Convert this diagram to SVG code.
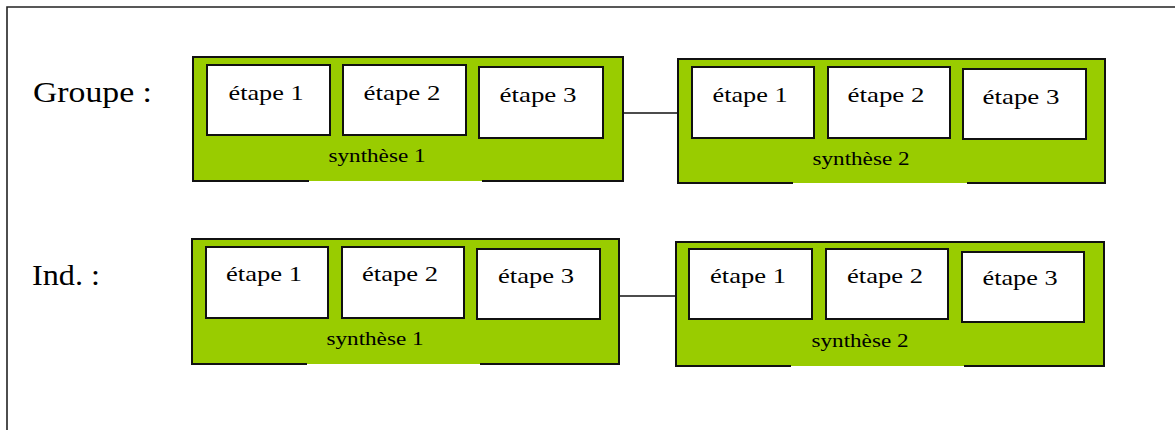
<svg xmlns="http://www.w3.org/2000/svg" width="1175" height="430" viewBox="0 0 1175 430">
  <style>
    .frame { fill: none; stroke: #222; stroke-width: 1.6; }
    .panel { fill: #99cc00; }
    .panel-edge { fill: none; stroke: #111; stroke-width: 2; }
    .step { fill: #ffffff; stroke: #111; stroke-width: 2; }
    .link { fill: none; stroke: #111; stroke-width: 1.6; }
    .row-label { font-size: 30px; }
    .step-label { font-size: 22px; text-anchor: middle; }
    .syn-label { font-size: 18px; text-anchor: middle; }
  </style>
  <rect width="1175" height="430" fill="#ffffff"/>

  <!-- outer frame: left and top edges -->
  <path class="frame" d="M7,430 V7 H1175"/>

  <g font-family="Liberation Serif, DejaVu Serif, serif" fill="#000">
  <!-- row labels -->
  <g id="label-groupe">
    <text class="row-label" x="33" y="102" textLength="119" lengthAdjust="spacingAndGlyphs">Groupe :</text>
  </g>
  <g id="label-ind">
    <text class="row-label" x="32" y="285" textLength="68" lengthAdjust="spacingAndGlyphs">Ind. :</text>
  </g>
  </g>

  <!-- connectors -->
  <g id="connectors">
    <line class="link" x1="330" y1="99" x2="343" y2="99"/>
    <line class="link" x1="466" y1="99" x2="479" y2="99"/>
    <line class="link" x1="623" y1="113" x2="678" y2="113"/>
    <line class="link" x1="814" y1="101" x2="828" y2="101"/>
    <line class="link" x1="950" y1="101" x2="963" y2="101"/>

    <line class="link" x1="328" y1="282" x2="342" y2="282"/>
    <line class="link" x1="464" y1="282" x2="477" y2="282"/>
    <line class="link" x1="619" y1="296" x2="676" y2="296"/>
    <line class="link" x1="812" y1="283" x2="826" y2="283"/>
    <line class="link" x1="948" y1="283" x2="962" y2="283"/>
  </g>

  <g font-family="Liberation Serif, DejaVu Serif, serif" fill="#000">
  <!-- Groupe : synthèse 1 -->
  <g id="groupe-synthese-1">
    <rect class="panel" x="193" y="57" width="430" height="124"/>
    <path class="panel-edge" d="M309,181 H193 V57 H623 V181 H482"/>
    <rect class="step" x="207" y="65" width="123" height="70"/>
    <rect class="step" x="343" y="65" width="123" height="70"/>
    <rect class="step" x="479" y="67" width="124" height="71"/>
    <text class="step-label" x="266" y="100" textLength="75" lengthAdjust="spacingAndGlyphs">étape 1</text>
    <text class="step-label" x="402" y="100" textLength="77" lengthAdjust="spacingAndGlyphs">étape 2</text>
    <text class="step-label" x="538" y="102" textLength="77" lengthAdjust="spacingAndGlyphs">étape 3</text>
    <text class="syn-label" x="377" y="162" textLength="97" lengthAdjust="spacingAndGlyphs">synthèse 1</text>
  </g>

  <!-- Groupe : synthèse 2 -->
  <g id="groupe-synthese-2">
    <rect class="panel" x="678" y="59" width="427" height="124"/>
    <path class="panel-edge" d="M793,183 H678 V59 H1105 V183 H967"/>
    <rect class="step" x="692" y="67" width="122" height="71"/>
    <rect class="step" x="828" y="67" width="122" height="71"/>
    <rect class="step" x="963" y="69" width="123" height="70"/>
    <text class="step-label" x="750" y="102" textLength="75" lengthAdjust="spacingAndGlyphs">étape 1</text>
    <text class="step-label" x="886" y="102" textLength="77" lengthAdjust="spacingAndGlyphs">étape 2</text>
    <text class="step-label" x="1021" y="104" textLength="77" lengthAdjust="spacingAndGlyphs">étape 3</text>
    <text class="syn-label" x="861" y="165" textLength="97" lengthAdjust="spacingAndGlyphs">synthèse 2</text>
  </g>

  <!-- Ind. : synthèse 1 -->
  <g id="ind-synthese-1">
    <rect class="panel" x="192" y="239" width="427" height="125"/>
    <path class="panel-edge" d="M307,364 H192 V239 H619 V364 H480"/>
    <rect class="step" x="206" y="247" width="122" height="71"/>
    <rect class="step" x="342" y="247" width="122" height="71"/>
    <rect class="step" x="477" y="249" width="123" height="70"/>
    <text class="step-label" x="264" y="281" textLength="76" lengthAdjust="spacingAndGlyphs">étape 1</text>
    <text class="step-label" x="400" y="281" textLength="76" lengthAdjust="spacingAndGlyphs">étape 2</text>
    <text class="step-label" x="536" y="283" textLength="76" lengthAdjust="spacingAndGlyphs">étape 3</text>
    <text class="syn-label" x="375" y="345" textLength="97" lengthAdjust="spacingAndGlyphs">synthèse 1</text>
  </g>

  <!-- Ind. : synthèse 2 -->
  <g id="ind-synthese-2">
    <rect class="panel" x="676" y="242" width="428" height="124"/>
    <path class="panel-edge" d="M791,366 H676 V242 H1104 V366 H964"/>
    <rect class="step" x="689" y="249" width="123" height="70"/>
    <rect class="step" x="826" y="249" width="122" height="70"/>
    <rect class="step" x="962" y="252" width="122" height="70"/>
    <text class="step-label" x="748" y="283" textLength="76" lengthAdjust="spacingAndGlyphs">étape 1</text>
    <text class="step-label" x="885" y="283" textLength="76" lengthAdjust="spacingAndGlyphs">étape 2</text>
    <text class="step-label" x="1020" y="285" textLength="75" lengthAdjust="spacingAndGlyphs">étape 3</text>
    <text class="syn-label" x="860" y="347" textLength="97" lengthAdjust="spacingAndGlyphs">synthèse 2</text>
  </g>
  </g>
</svg>
